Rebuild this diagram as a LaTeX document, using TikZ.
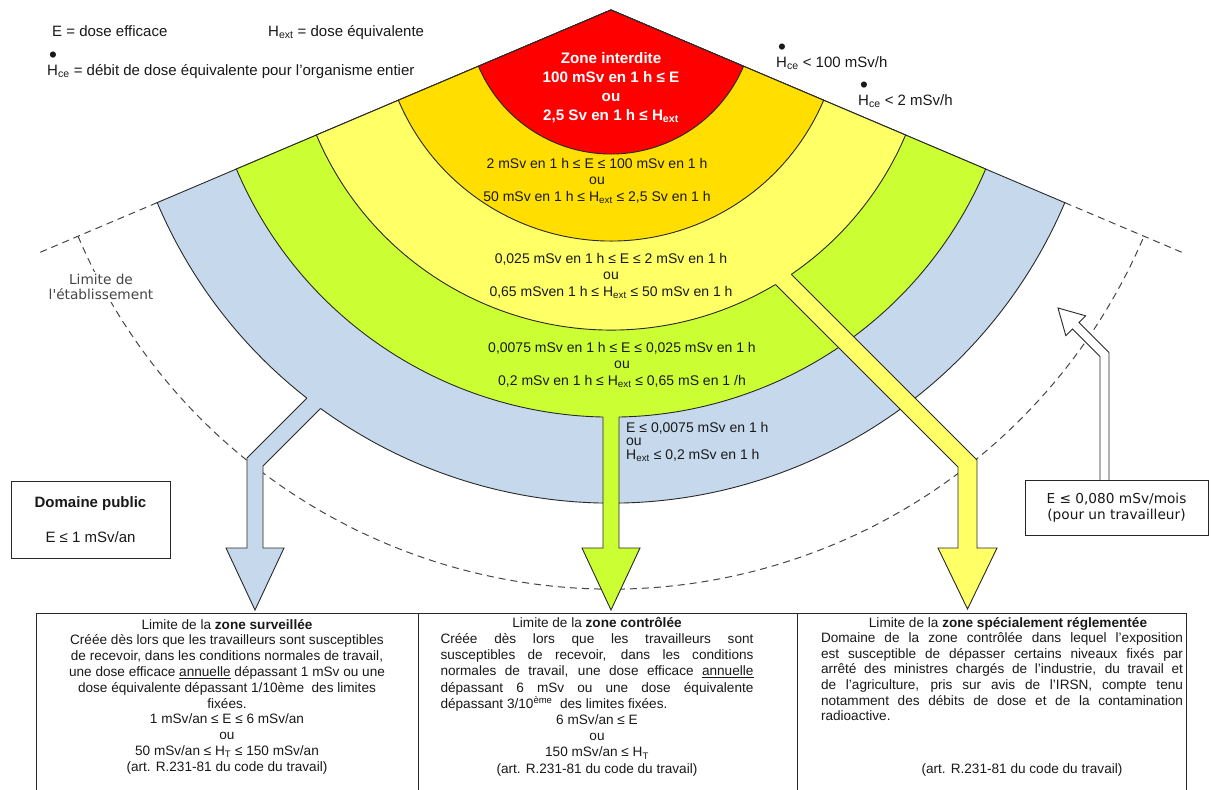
\documentclass[tikz,border=0pt]{standalone}
\usepackage{fontspec}
\setmainfont{Liberation Sans}
\newfontfamily\dvs{DejaVu Sans}
\usetikzlibrary{calc}
\definecolor{zred}{RGB}{255,0,0}
\definecolor{zgold}{RGB}{255,222,0}
\definecolor{zlyel}{RGB}{255,255,102}
\definecolor{zgreen}{RGB}{204,255,51}
\definecolor{zblue}{RGB}{198,217,236}
\definecolor{lnc}{RGB}{40,40,40}
\definecolor{dgray}{RGB}{70,70,70}
\definecolor{txt}{RGB}{25,25,25}
\newcommand{\Hdot}{\makebox[0pt][l]{\hspace{0.13em}\raisebox{0.82em}{\scalebox{1.5}{\textbullet}}}H}
\begin{document}
\begin{tikzpicture}[x=1pt,y=-1pt,line join=miter,
  zline/.style={draw=lnc,line width=0.9pt},
  dashl/.style={draw=dgray,line width=1pt,dash pattern=on 7pt off 5pt},
  ztext/.style={font=\fontsize{14}{16.5}\selectfont,align=center,text=txt,inner sep=0pt},
  lgd/.style={font=\fontsize{15}{18}\selectfont,text=txt,inner sep=0pt},
  btext/.style={font=\fontsize{13.6}{15.8}\selectfont,align=center,text=txt,inner sep=0pt},
  vlabel/.style={font=\dvs\fontsize{13.7}{15.5}\selectfont,align=center,text=dgray},
  boxn/.style={draw=lnc,line width=0.9pt,fill=white}]
\useasboundingbox (0,0) rectangle (1211,790);
\fill[white] (0,0) rectangle (1211,790);
\coordinate (O) at (611,10);

% limite de l'etablissement (dashed)
\draw[dashl] ($(O)+(157:493)$) -- ($(O)+(157:625)$);
\draw[dashl] ($(O)+(23:493)$) -- ($(O)+(23:625)$);
\draw[dashl] ($(O)+(157:579)$) arc[start angle=157,end angle=23,radius=579];
\node[vlabel,fill=white,inner sep=2pt] (lim) at (101,287) {Limite de\\l'établissement};

% blue zone + arrow
\draw[zline,fill=zblue] (O) -- ($(O)+(157:493)$) arc[start angle=157,end angle=23,radius=493] -- cycle;
\fill[zblue] (306.9,398.1) -- (247,458) -- (247,548) -- (226,548) -- (255,610) -- (284,548) -- (263,548) -- (263,466) -- (320.6,408.4) -- (326.6,402.4) -- (312.9,392.1) -- cycle;
\draw[zline] (306.9,398.1) -- (247,458) -- (247,548) -- (226,548) -- (255,610) -- (284,548) -- (263,548) -- (263,466) -- (320.6,408.4);

% green zone + arrow
\draw[zline,fill=zgreen] (O) -- ($(O)+(157:407)$) arc[start angle=157,end angle=23,radius=407] -- cycle;
\fill[zgreen] (603,405) -- (603,548) -- (582,548) -- (611,610) -- (640,548) -- (619,548) -- (619,405) -- cycle;
\draw[zline] (603,416.9) -- (603,548) -- (582,548) -- (611,610) -- (640,548) -- (619,548) -- (619,416.9);

% light yellow zone + arrow
\draw[zline,fill=zlyel] (O) -- ($(O)+(157:320)$) arc[start angle=157,end angle=23,radius=320] -- cycle;
\fill[zlyel] (775.5,284.5) -- (958,467) -- (958,548) -- (938,548) -- (967.5,609) -- (997,548) -- (977,548) -- (977,460) -- (791.3,274.3) -- (785.3,268.3) -- (769.5,278.5) -- cycle;
\draw[zline] (775.5,284.5) -- (958,467) -- (958,548) -- (938,548) -- (967.5,609) -- (997,548) -- (977,548) -- (977,460) -- (791.3,274.3);

% gold and red zones
\draw[zline,fill=zgold] (O) -- ($(O)+(157:231)$) arc[start angle=157,end angle=23,radius=231] -- cycle;
\draw[zline,fill=zred] (O) -- ($(O)+(157:144)$) arc[start angle=157,end angle=23,radius=144] -- cycle;

% zone texts
\node[ztext,text=white,font=\bfseries\fontsize{15.2}{19}\selectfont] (tred) at (611,88) {Zone interdite\\100 mSv en 1 h ≤ E\\ou\\2,5 Sv en 1 h ≤ H\textsubscript{ext}};
\node[ztext] (tgold) at (597,181) {2 mSv en 1 h ≤ E ≤ 100 mSv en 1 h\\ou\\50 mSv en 1 h ≤ H\textsubscript{ext} ≤ 2,5 Sv en 1 h};
\node[ztext] (tlyel) at (611,276) {0,025 mSv en 1 h ≤ E ≤ 2 mSv en 1 h\\ou\\0,65 mSven 1 h ≤ H\textsubscript{ext} ≤ 50 mSv en 1 h};
\node[ztext] (tgreen) at (622,365) {0,0075 mSv en 1 h ≤ E ≤ 0,025 mSv en 1 h\\ou\\0,2 mSv en 1 h ≤ H\textsubscript{ext} ≤ 0,65 mS en 1 /h};
\node[ztext,align=left,anchor=west,font=\fontsize{14}{13.6}\selectfont] (tblue) at (626,442) {E ≤ 0,0075 mSv en 1 h\\ou\\H\textsubscript{ext} ≤ 0,2 mSv en 1 h};

% legend
\node[lgd,anchor=base west] (l1) at (52,36) {E = dose efficace};
\node[lgd,anchor=base west] (l2) at (268,36) {H\textsubscript{ext} = dose équivalente};
\node[lgd,anchor=base west] (l3) at (47,75) {\Hdot\textsubscript{ce} = débit de dose équivalente pour l'organisme entier};
\node[lgd,anchor=base west] (l4) at (776,67) {\Hdot\textsubscript{ce} < 100 mSv/h};
\node[lgd,anchor=base west] (l5) at (858,105) {\Hdot\textsubscript{ce} < 2 mSv/h};

% worker arrow and box
\draw[zline,fill=white] (1100,482) -- (1100,356.4) -- (1072.5,328.9) -- (1065.8,335.6) -- (1058,308) -- (1085.6,315.8) -- (1078.9,322.5) -- (1109,352.6) -- (1109,482);
\node[boxn,minimum width=183pt,minimum height=55pt,vlabel,text=txt] (ebox) at (1116.5,507.5) {E ≤ 0,080 mSv/mois\\(pour un travailleur)};

% domaine public
\node[boxn,minimum width=159pt,minimum height=77pt,align=center,font=\fontsize{15}{18}\selectfont,text=txt] (dpub) at (90.5,519.5) {\textbf{Domaine public}\\[17pt]E ≤ 1 mSv/an};

% bottom boxes
\node[boxn,anchor=north west,minimum width=382pt,minimum height=200pt] (bl) at (36,613) {};
\node[boxn,anchor=north west,minimum width=379pt,minimum height=200pt] (bm) at (418,613) {};
\node[boxn,anchor=north west,minimum width=389pt,minimum height=200pt] (br) at (797,613) {};

\node[btext,anchor=north] (tl) at (227,619) {Limite de la \textbf{zone surveillée}\\
Créée dès lors que les travailleurs sont susceptibles\\
de recevoir, dans les conditions normales de travail,\\
une dose efficace \underline{annuelle} dépassant 1 mSv ou une\\
dose équivalente dépassant 1/10ème\ \ des limites\\
fixées.\\
1 mSv/an ≤ E ≤ 6 mSv/an\\
ou\\
50 mSv/an ≤ H\textsubscript{T} ≤ 150 mSv/an\\
(art. R.231-81 du code du travail)};

\node[btext,anchor=north,font=\fontsize{13.6}{16.2}\selectfont] (tm) at (597,617) {Limite de la \textbf{zone contrôlée}\\
\makebox[313pt][s]{Créée dès lors que les travailleurs sont}\\
\makebox[313pt][s]{susceptibles de recevoir, dans les conditions}\\
\makebox[313pt][s]{normales de travail, une dose efficace \underline{annuelle}}\\
\makebox[313pt][s]{dépassant 6 mSv ou une dose équivalente}\\
\makebox[313pt][l]{dépassant 3/10\textsuperscript{ème}\ \ des limites fixées.}\\
6 mSv/an ≤ E\\
ou\\
150 mSv/an ≤ H\textsubscript{T}\\
(art. R.231-81 du code du travail)};

\node[btext,anchor=north,font=\fontsize{13.6}{15.6}\selectfont] (tr) at (1002,617) {\makebox[362pt][c]{\hspace{12pt}Limite de la \textbf{zone spécialement réglementée}}\\
\makebox[362pt][s]{Domaine de la zone contrôlée dans lequel l'exposition}\\
\makebox[362pt][s]{est susceptible de dépasser certains niveaux fixés par}\\
\makebox[362pt][s]{arrêté des ministres chargés de l'industrie, du travail et}\\
\makebox[362pt][s]{de l'agriculture, pris sur avis de l'IRSN, compte tenu}\\
\makebox[362pt][s]{notamment des débits de dose et de la contamination}\\
\makebox[362pt][l]{radioactive.}};
\node[btext] (tra) at (1022,770) {(art. R.231-81 du code du travail)};
\end{tikzpicture}
\end{document}
